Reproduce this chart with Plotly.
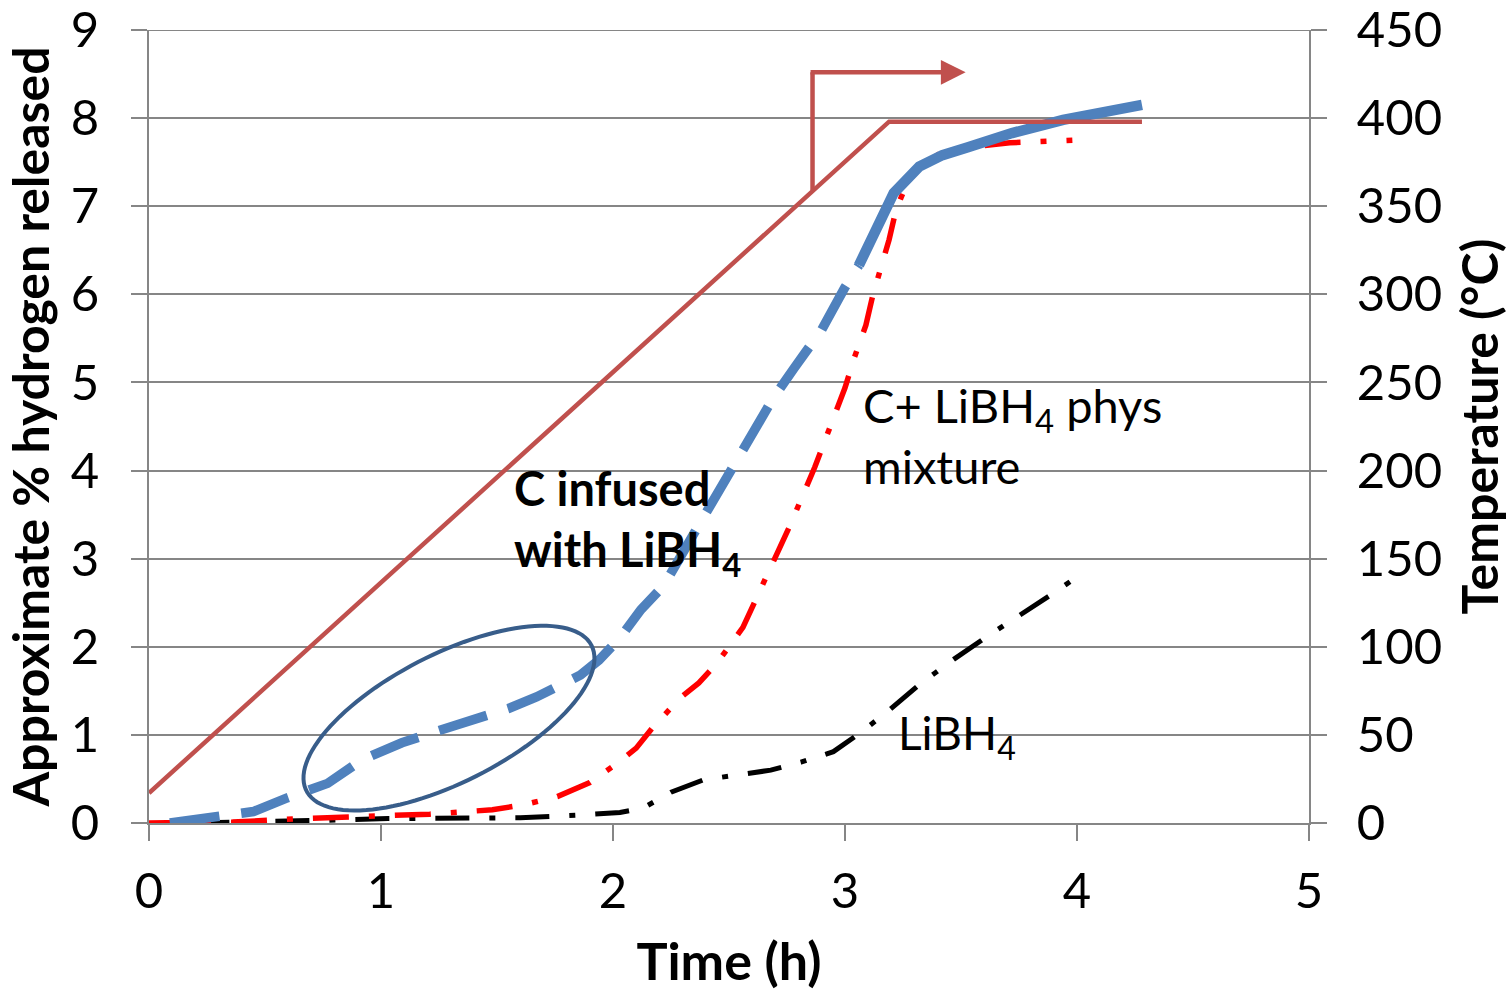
import numpy as np
import plotly.graph_objects as go

# ---------------- data ----------------
# C infused with LiBH4 (blue)
infused_t = [0.09, 0.29, 0.45, 0.59, 0.77, 0.92, 1.09, 1.25, 1.40, 1.55, 1.67, 1.86, 1.94, 2.03, 2.12,
             2.22, 2.39, 2.50, 2.69, 2.78, 2.90, 3.00, 3.06]
infused_h = [0.0, 0.07, 0.13, 0.28, 0.45, 0.72, 0.91, 1.05, 1.17, 1.30, 1.43, 1.68, 1.85, 2.10, 2.42,
             2.70, 3.47, 3.97, 4.82, 5.16, 5.60, 6.08, 6.33]
infused_t2 = [3.06, 3.14, 3.21, 3.32, 3.42, 3.53, 3.72, 3.94, 4.10, 4.28]
infused_h2 = [6.33, 6.75, 7.15, 7.45, 7.58, 7.67, 7.83, 7.98, 8.05, 8.15]

# C + LiBH4 physical mixture (red)
mix_t = [0.0, 0.36, 0.65, 0.94, 1.21, 1.48, 1.62, 1.76, 1.90, 2.02, 2.10, 2.17, 2.29, 2.37, 2.45, 2.56,
         2.61, 2.66, 2.76, 2.87, 2.92, 3.00, 3.04, 3.09, 3.12, 3.16, 3.19, 3.22, 3.27, 3.34, 3.41,
         3.53, 3.71, 3.98]
mix_h = [0.0, 0.01, 0.05, 0.07, 0.10, 0.15, 0.21, 0.30, 0.46, 0.68, 0.85, 1.08, 1.42, 1.59, 1.82, 2.22,
         2.51, 2.81, 3.36, 4.04, 4.37, 4.94, 5.28, 5.65, 5.99, 6.33, 6.62, 6.96, 7.28, 7.48, 7.60,
         7.67, 7.72, 7.75]

# LiBH4 (black)
libh4_t = [0.20, 0.50, 0.74, 1.03, 1.33, 1.60, 1.86, 2.03, 2.13, 2.25, 2.39, 2.53, 2.68, 2.81, 2.95,
           3.07, 3.19, 3.32, 3.47, 3.62, 3.75, 3.90, 4.03]
libh4_h = [0.0, 0.01, 0.03, 0.05, 0.06, 0.06, 0.09, 0.12, 0.17, 0.35, 0.49, 0.54, 0.60, 0.69, 0.81,
           1.03, 1.28, 1.57, 1.86, 2.13, 2.35, 2.61, 2.85]

# Temperature ramp (right axis)
temp_t = [0.0, 3.19, 4.28]
temp_c = [17, 398, 398]

x_ticks = [0, 1, 2, 3, 4, 5]
y_ticks = list(range(0, 10))
y2_ticks = list(range(0, 451, 50))

FONT = "Lato"
GRID = "#868686"
BLUE = "#4F81BD"
RED_T = "#C0504D"

fig = go.Figure()

fig.add_trace(go.Scatter(x=temp_t, y=temp_c, yaxis="y2", mode="lines",
                         line=dict(color=RED_T, width=4.5), showlegend=False))
fig.add_trace(go.Scatter(x=libh4_t, y=libh4_h, mode="lines",
                         line=dict(color="black", width=5, dash="34px,20px,6px,20px"),
                         showlegend=False))
fig.add_trace(go.Scatter(x=mix_t, y=mix_h, mode="lines",
                         line=dict(color="#FF0000", width=5.5, dash="36px,20px,6px,20px"),
                         showlegend=False))
fig.add_trace(go.Scatter(x=infused_t, y=infused_h, mode="lines",
                         line=dict(color=BLUE, width=9.5, dash="50px,22px"),
                         showlegend=False))
fig.add_trace(go.Scatter(x=infused_t2, y=infused_h2, mode="lines",
                         line=dict(color=BLUE, width=10.5),
                         showlegend=False))

# ellipse highlighting the low-temperature release (rotated)
PX_X, PX_Y = 232.0, 88.1
cx, cy, a, b, ang = 1.293, 1.19, 160.0, 64.0, np.deg2rad(27)
th = np.linspace(0, 2 * np.pi, 120)
ex = (a * np.cos(th) * np.cos(ang) - b * np.sin(th) * np.sin(ang)) / PX_X + cx
ey = (a * np.cos(th) * np.sin(ang) + b * np.sin(th) * np.cos(ang)) / PX_Y + cy
path = "M " + " L ".join(f"{x:.4f},{y:.4f}" for x, y in zip(ex, ey)) + " Z"

shapes = [
    # top gridline (plotly skips the grid line on the plot edge)
    dict(type="line", xref="paper", yref="y", x0=0, x1=1, y0=y_ticks[-1], y1=y_ticks[-1],
         line=dict(color=GRID, width=2), layer="below"),
    dict(type="path", path=path, xref="x", yref="y",
         line=dict(color="#385D8A", width=4)),
    dict(type="line", xref="x", yref="y", x0=2.86, y0=7.18, x1=2.86, y1=8.52,
         line=dict(color=RED_T, width=4.5)),
]

annotations = [
    dict(x=3.52, y=8.52, ax=2.845, ay=8.52, xref="x", yref="y", axref="x", ayref="y",
         text="", showarrow=True, arrowhead=2, arrowsize=1.1, arrowwidth=4.5, arrowcolor=RED_T),
    dict(x=1.565, y=3.42, xref="x", yref="y", xanchor="left", yanchor="middle", align="left",
         text="<b>C infused<br>with LiBH<sub>4</sub></b>", showarrow=False,
         font=dict(family=FONT, size=47, color="black")),
    dict(x=3.07, y=4.40, xref="x", yref="y", xanchor="left", yanchor="middle", align="left",
         text="C+ LiBH<sub>4</sub> phys<br>mixture", showarrow=False,
         font=dict(family=FONT, size=47, color="black")),
    dict(x=3.22, y=0.99, xref="x", yref="y", xanchor="left", yanchor="middle", align="left",
         text="LiBH<sub>4</sub>", showarrow=False,
         font=dict(family=FONT, size=46, color="black")),
]

tickfont = dict(family=FONT, size=49, color="black")

fig.update_layout(
    width=1510, height=991,
    margin=dict(l=149, r=201, t=30, b=168, autoexpand=False),
    paper_bgcolor="white", plot_bgcolor="white",
    showlegend=False,
    shapes=shapes, annotations=annotations,
    xaxis=dict(range=[0, 5], tickvals=x_ticks, ticktext=[str(v) for v in x_ticks],
               showgrid=False, zeroline=False, showline=True, linecolor=GRID, linewidth=2,
               ticks="outside", ticklen=16, tickwidth=2, tickcolor=GRID, tickfont=tickfont,
               ticklabelstandoff=8, automargin=False, ticklabeloverflow="allow",
               title=dict(text="<b>Time (h)</b>", font=dict(family=FONT, size=52, color="black"),
                          standoff=32)),
    yaxis=dict(range=[0, 9], tickvals=y_ticks, ticktext=[str(v) for v in y_ticks],
               showgrid=True, gridcolor=GRID, gridwidth=2, zeroline=False,
               showline=True, linecolor=GRID, linewidth=2, mirror=False,
               ticks="outside", ticklen=16, tickwidth=2, tickcolor=GRID, tickfont=tickfont,
               ticklabelstandoff=22, automargin=False, ticklabeloverflow="allow",
               title=dict(text="<b>Approximate % hydrogen released</b>",
                          font=dict(family=FONT, size=50, color="black"), standoff=12)),
    yaxis2=dict(range=[0, 450], tickvals=y2_ticks, ticktext=[str(v) for v in y2_ticks],
                overlaying="y", side="right", showgrid=False, zeroline=False,
                showline=True, linecolor=GRID, linewidth=2,
                ticks="outside", ticklen=16, tickwidth=2, tickcolor=GRID, tickfont=tickfont,
                ticklabelstandoff=20, automargin=False, ticklabeloverflow="allow",
                title=dict(text="<b>Temperature (°C)</b>",
                           font=dict(family=FONT, size=50, color="black"), standoff=22)),
)

fig.write_html("out.html")
